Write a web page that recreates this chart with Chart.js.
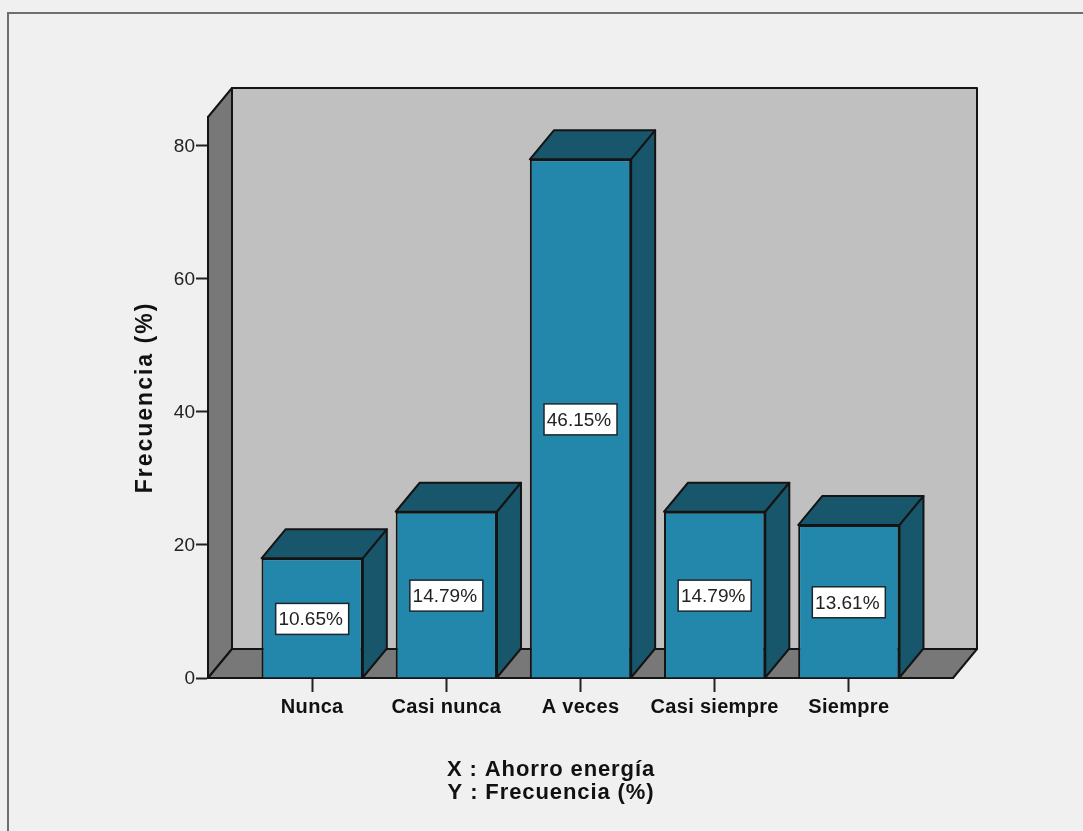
<!DOCTYPE html>
<html>
<head>
<meta charset="utf-8">
<title>Ahorro energía</title>
<script src="https://cdn.jsdelivr.net/npm/chart.js@4/dist/chart.umd.min.js"></script>
<style>
  html, body { margin: 0; padding: 0; background: #f0f0f0; }
  canvas { display: block; }
</style>
</head>
<body>
<canvas id="chart" width="1083" height="831"></canvas>
<script>
var categories = ['Nunca', 'Casi nunca', 'A veces', 'Casi siempre', 'Siempre'];
var counts = [18, 25, 78, 25, 23];
var yTicks = [0, 20, 40, 60, 80];
var footerLines = ['X : Ahorro energía', 'Y : Frecuencia (%)'];

var total = counts.reduce(function (a, b) { return a + b; }, 0);
var FONT = '"Liberation Sans", Arial, sans-serif';

// how far the back wall sits behind the front plane
var DEPTH_X = 24;
var DEPTH_Y = -29;

function poly(ctx, pts, fill) {
  ctx.beginPath();
  ctx.moveTo(pts[0][0], pts[0][1]);
  for (var i = 1; i < pts.length; i++) ctx.lineTo(pts[i][0], pts[i][1]);
  ctx.closePath();
  ctx.fillStyle = fill;
  ctx.fill();
  ctx.lineWidth = 2;
  ctx.lineJoin = 'round';
  ctx.strokeStyle = '#141414';
  ctx.stroke();
}

// Chart.js fonts have no letter spacing, so wrap the scale's own draw method
function spaced(scale, method, spacing) {
  var orig = scale.constructor.prototype[method];
  scale[method] = function () {
    var args = arguments;
    scale.ctx.letterSpacing = spacing;
    orig.apply(scale, args);
    scale.ctx.letterSpacing = '0px';
  };
}

var box3d = {
  id: 'box3d',
  // page frame, walls and floor
  beforeDraw: function (chart) {
    var ctx = chart.ctx, a = chart.chartArea;
    ctx.save();
    ctx.fillStyle = '#f0f0f0';
    ctx.fillRect(0, 0, chart.width, chart.height);
    ctx.strokeStyle = '#6e6e6e';
    ctx.lineWidth = 2;
    ctx.beginPath();
    ctx.moveTo(8, chart.height);
    ctx.lineTo(8, 13);
    ctx.lineTo(chart.width, 13);
    ctx.stroke();

    var bx = a.left + DEPTH_X, by = a.bottom + DEPTH_Y;
    poly(ctx, [[bx, a.top + DEPTH_Y], [a.right + DEPTH_X, a.top + DEPTH_Y], [a.right + DEPTH_X, by], [bx, by]], '#c0c0c0');
    poly(ctx, [[a.left, a.top], [bx, a.top + DEPTH_Y], [bx, by], [a.left, a.bottom]], '#787878');
    poly(ctx, [[a.left, a.bottom], [bx, by], [a.right + DEPTH_X, by], [a.right, a.bottom]], '#787878');
    ctx.restore();
  },
  // top and side faces of each bar, taken from the bar elements
  beforeDatasetsDraw: function (chart) {
    var ctx = chart.ctx;
    ctx.save();
    chart.getDatasetMeta(0).data.forEach(function (bar) {
      var l = bar.x - bar.width / 2, r = bar.x + bar.width / 2;
      poly(ctx, [[l, bar.y], [l + DEPTH_X, bar.y + DEPTH_Y], [r + DEPTH_X, bar.y + DEPTH_Y], [r, bar.y]], '#17566b');
      poly(ctx, [[r, bar.y], [r + DEPTH_X, bar.y + DEPTH_Y], [r + DEPTH_X, bar.base + DEPTH_Y], [r, bar.base]], '#17566b');
    });
    ctx.restore();
  },
  // percentage boxes and the two lines under the axis
  afterDatasetsDraw: function (chart) {
    var ctx = chart.ctx;
    ctx.save();
    ctx.textAlign = 'center';
    ctx.textBaseline = 'middle';
    chart.getDatasetMeta(0).data.forEach(function (bar, i) {
      var text = (counts[i] / total * 100).toFixed(2) + '%';
      var cy = (bar.y + bar.base) / 2 + 1;
      ctx.fillStyle = '#ffffff';
      ctx.strokeStyle = '#1c262b';
      ctx.lineWidth = 1.5;
      ctx.fillRect(bar.x - 36.5, cy - 15.5, 73, 31);
      ctx.strokeRect(bar.x - 36.5, cy - 15.5, 73, 31);
      ctx.fillStyle = '#222222';
      ctx.font = '19px ' + FONT;
      ctx.fillText(text, bar.x - 1.5, cy + 1);
    });
    ctx.fillStyle = '#111111';
    ctx.font = 'bold 22px ' + FONT;
    ctx.letterSpacing = '0.9px';
    ctx.fillText(footerLines[0], 551, 770);
    ctx.fillText(footerLines[1], 551, 793);
    ctx.letterSpacing = '0px';
    ctx.restore();
  }
};

new Chart(document.getElementById('chart'), {
  type: 'bar',
  data: {
    datasets: [{
      data: counts.map(function (v, i) { return { x: i, y: v }; }),
      backgroundColor: '#2387ab',
      borderColor: '#141414',
      borderWidth: 2,
      barPercentage: 1,
      categoryPercentage: 0.755
    }]
  },
  options: {
    responsive: false,
    animation: false,
    layout: { padding: { top: 117, right: 130, left: 0, bottom: 0 } },
    plugins: { legend: { display: false }, tooltip: { enabled: false } },
    scales: {
      x: {
        type: 'linear',
        offset: false,
        min: -0.7765,
        max: 4.7765,
        afterBuildTicks: function (scale) {
          scale.ticks = categories.map(function (c, i) { return { value: i }; });
        },
        afterFit: function (scale) { scale.height = 153; },
        grid: { offset: false, drawOnChartArea: false, tickLength: 14, tickColor: '#222222', tickWidth: 2 },
        border: { display: true, color: '#141414', width: 2 },
        ticks: {
          autoSkip: false,
          maxRotation: 0,
          padding: 3,
          color: '#111111',
          font: { family: FONT, size: 20, weight: 'bold' },
          callback: function (v) { return categories[v]; }
        },
        afterUpdate: function (scale) { spaced(scale, 'drawLabels', '0.3px'); }
      },
      y: {
        min: 0,
        max: 84.36,
        afterBuildTicks: function (scale) {
          scale.ticks = yTicks.map(function (v) { return { value: v }; });
        },
        afterFit: function (scale) { scale.width = 208; },
        grid: { drawOnChartArea: false, tickLength: 12, tickColor: '#222222', tickWidth: 2 },
        border: { display: true, color: '#141414', width: 2 },
        ticks: {
          padding: 1,
          labelOffset: 1,
          color: '#222222',
          font: { family: FONT, size: 19 }
        },
        title: {
          display: true,
          text: 'Frecuencia (%)',
          color: '#111111',
          font: { family: FONT, size: 23, weight: 'bold' },
          padding: { top: 132, bottom: 0 }
        },
        afterUpdate: function (scale) { spaced(scale, 'drawTitle', '2px'); }
      }
    }
  },
  plugins: [box3d]
});
</script>
</body>
</html>
